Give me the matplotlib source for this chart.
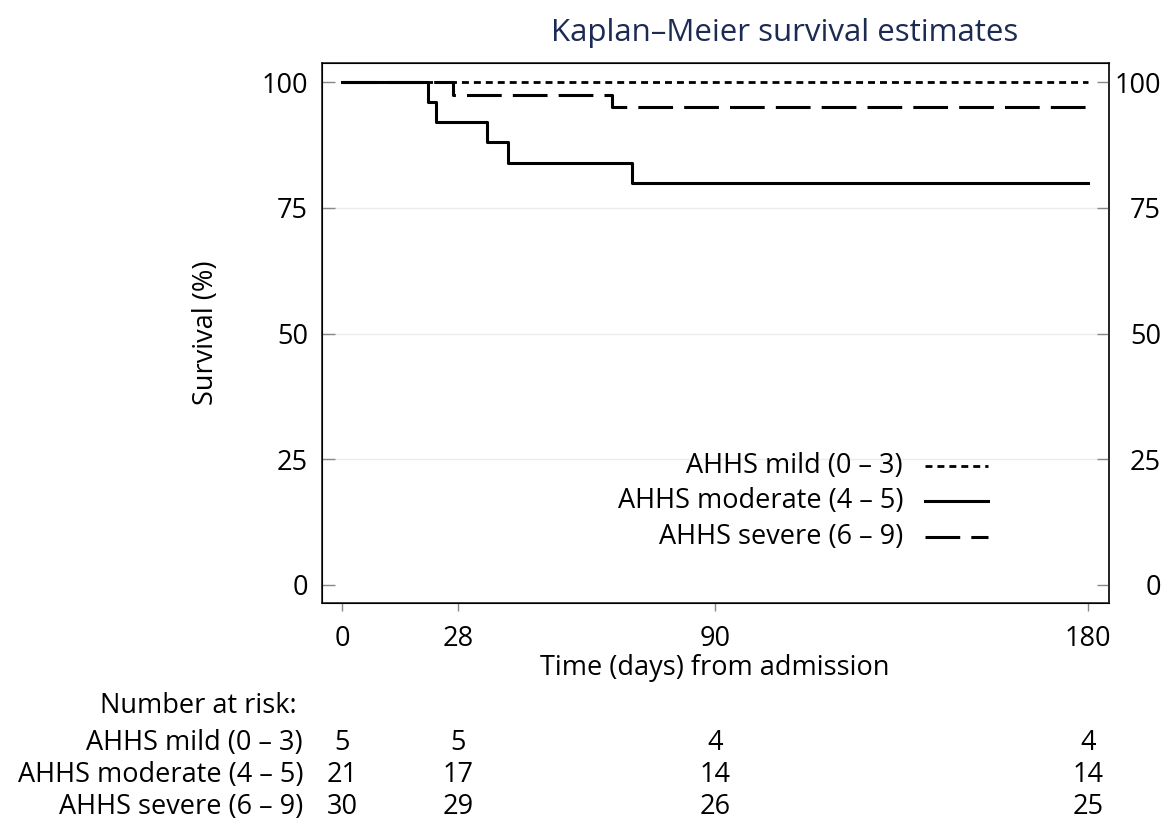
import matplotlib
matplotlib.use("Agg")
import matplotlib.pyplot as plt
import matplotlib.transforms as mtransforms

plt.rcParams['font.family'] = ['Open Sans', 'DejaVu Sans']
plt.rcParams['lines.scale_dashes'] = False

# Kaplan-Meier step data (days, survival %)
mild_t = [0, 180]
mild_s = [100, 100]
moderate_t = [0, 20.7, 22.8, 35, 40, 70, 180]
moderate_s = [100, 96, 92, 88, 84, 80, 80]
severe_t = [0, 26.8, 65.2, 180]
severe_s = [100, 97.5, 95, 95]

groups = ["AHHS mild (0 \u2013 3)", "AHHS moderate (4 \u2013 5)", "AHHS severe (6 \u2013 9)"]
risk_times = [0, 28, 90, 180]
risk_mild = [5, 5, 4, 4]
risk_moderate = [21, 17, 14, 14]
risk_severe = [30, 29, 26, 25]

x_ticks = [0, 28, 90, 180]
y_ticks = [0, 25, 50, 75, 100]

FS = 19.5
W, H = 1169, 827
fig = plt.figure(figsize=(W / 100, H / 100), dpi=100)
ax = fig.add_axes([322 / W, 1 - 603 / H, (1109 - 322) / W, (603 - 63) / H])

styles = {
    "mild": dict(color='black', lw=2.0, dashes=(5, 3.6)),
    "moderate": dict(color='black', lw=2.2, linestyle='-'),
    "severe": dict(color='black', lw=2.2, dashes=(25, 8)),
}

ax.step(mild_t, mild_s, where='post', zorder=3, **styles["mild"])
ax.step(moderate_t, moderate_s, where='post', zorder=3, **styles["moderate"])
ax.step(severe_t, severe_s, where='post', zorder=3, **styles["severe"])

ax.set_xlim(-4.8, 185.1)
ax.set_ylim(-3.6, 103.8)
ax.set_xticks(x_ticks)
ax.set_yticks(y_ticks)
for y in [25, 50, 75]:
    ax.axhline(y, color='#ececec', lw=1.0, zorder=1)

for sp in ax.spines.values():
    sp.set_linewidth(1.2)
    sp.set_color('#222222')

ax.tick_params(axis='x', direction='out', length=6, width=1, color='#888888',
               pad=10, labelsize=FS)
ax.tick_params(axis='y', direction='in', length=9, width=1, color='#888888',
               pad=10, labelsize=FS)

ax2 = ax.twinx()
ax2.set_ylim(ax.get_ylim())
ax2.set_yticks(y_ticks)
ax2.tick_params(axis='y', direction='in', length=9, width=1, color='#888888',
                pad=37.5, labelsize=FS)
for lab in ax2.get_yticklabels():
    lab.set_horizontalalignment('right')
ax2.spines['right'].set_linewidth(1.2)
ax2.spines['right'].set_color('#222222')

fig.text(206 / W, 1 - 333 / H, "Survival (%)", fontsize=FS, rotation=90,
         ha='center', va='center')
fig.text(715 / W, 1 - 668 / H, "Time (days) from admission", fontsize=FS,
         ha='center', va='center')
fig.text(785 / W, 1 - 33 / H, "Kaplan\u2013Meier survival estimates", fontsize=22.5,
         ha='center', va='center', color='#1c2b52')

# legend drawn by hand: right aligned labels, sample lines to the right
leg_rows = [1 - 466 / H, 1 - 501 / H, 1 - 537 / H]
for name, key, yy in zip(groups, ["mild", "moderate", "severe"], leg_rows):
    fig.text(903 / W, yy, name, fontsize=FS, ha='right', va='center')
    fig.add_artist(plt.Line2D([925 / W, 988 / W], [yy, yy], transform=fig.transFigure,
                              **styles[key]))

# number at risk table
trans = mtransforms.blended_transform_factory(ax.transData, fig.transFigure)
fig.text(297 / W, 1 - 706 / H, "Number at risk:", fontsize=FS, ha='right', va='center')
rows = [risk_mild, risk_moderate, risk_severe]
row_y = [1 - 743 / H, 1 - 775 / H, 1 - 807 / H]
for name, vals, yy in zip(groups, rows, row_y):
    fig.text(303 / W, yy, name, fontsize=FS, ha='right', va='center')
    for t, v in zip(risk_times, vals):
        ax.text(t, yy, str(v), transform=trans, fontsize=FS, ha='center', va='center',
                clip_on=False)

fig.savefig("out.png", dpi=100)
